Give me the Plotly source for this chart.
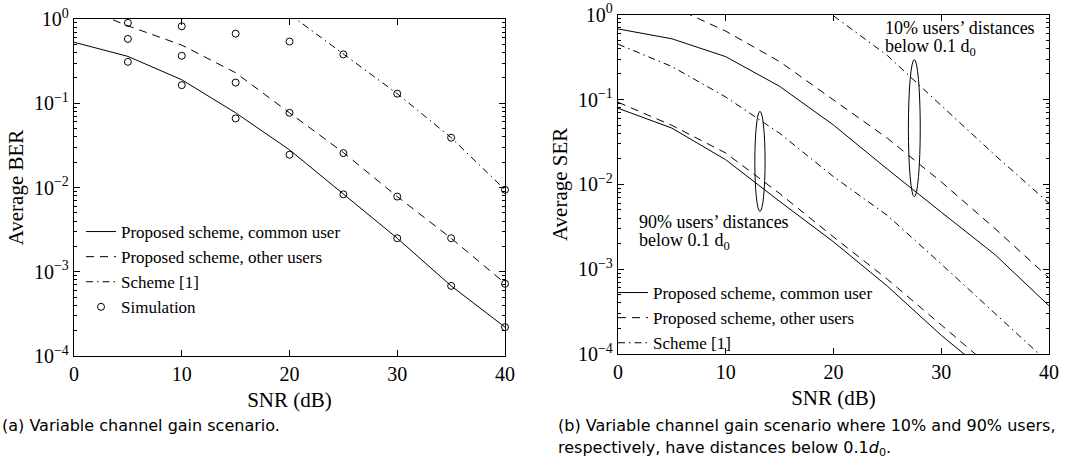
import plotly.graph_objects as go

# ---------------- data: left panel (BER) ----------------
snr = [0, 5, 10, 15, 20, 25, 30, 35, 40]
snr_sim = [5, 10, 15, 20, 25, 30, 35, 40]
snr_s1 = [20, 25, 30, 35, 40]

ber_common = [0.53, 0.36, 0.19, 0.077, 0.028, 0.0083, 0.0025, 6.8e-4, 2.2e-4]
ber_other = [1.5, 0.83, 0.49, 0.23, 0.077, 0.026, 0.0078, 0.0025, 7.3e-4]
ber_scheme1 = [1.14, 0.38, 0.13, 0.039, 0.0094]

sim_common = [0.31, 0.164, 0.066, 0.0245, 0.0083, 0.0025, 6.8e-4, 2.2e-4]
sim_other = [0.58, 0.366, 0.176, 0.077, 0.0256, 0.0078, 0.0025, 7.2e-4]
sim_scheme1 = [0.90, 0.82, 0.67, 0.54, 0.38, 0.13, 0.039, 0.0094]

# ---------------- data: right panel (SER) ----------------
snr_10_other = [5, 10, 15, 20, 25, 30, 35, 40]
snr_90 = [0, 5, 10, 15, 20, 25, 30, 35]

ser10_common = [0.68, 0.52, 0.32, 0.143, 0.050, 0.0151, 0.0047, 0.00148, 3.7e-4]
ser10_other = [1.25, 0.64, 0.28, 0.10, 0.035, 0.0107, 0.0030, 7.9e-4]
ser10_scheme1 = [0.97, 0.33, 0.085, 0.022, 0.0060]

ser90_common = [0.079, 0.046, 0.0195, 0.0063, 0.0021, 6.3e-4, 1.66e-4, 5e-5]
ser90_other = [0.093, 0.0496, 0.0234, 0.0078, 0.0024, 7.6e-4, 2.2e-4, 6.3e-5]
ser90_scheme1 = [0.45, 0.245, 0.107, 0.040, 0.0123, 0.0043, 0.00115, 3.0e-4, 7.8e-5]

y_ticks = [1e-4, 1e-3, 1e-2, 1e-1, 1]
y_ticktext = ["10<sup>\u22124</sup>", "10<sup>\u22123</sup>", "10<sup>\u22122</sup>",
              "10<sup>\u22121</sup>", "10<sup>0</sup>"]
x_ticks = [0, 10, 20, 30, 40]

SERIF = "Liberation Serif"
CAP = "DejaVu Sans"
DASH = "8px,6px"
DASHDOT = "7px,4px,1.5px,4px"

W, H = 1068, 466
fig = go.Figure()

line = dict(color="black", width=1)

# left panel
fig.add_trace(go.Scatter(x=snr, y=ber_common, mode="lines", name="Proposed scheme, common user",
                         line=dict(line, dash="solid"), xaxis="x", yaxis="y", legend="legend"))
fig.add_trace(go.Scatter(x=snr, y=ber_other, mode="lines", name="Proposed scheme, other users",
                         line=dict(line, dash=DASH), xaxis="x", yaxis="y", legend="legend"))
fig.add_trace(go.Scatter(x=snr_s1, y=ber_scheme1, mode="lines", name="Scheme [1]",
                         line=dict(line, dash=DASHDOT), xaxis="x", yaxis="y", legend="legend"))
marker = dict(symbol="circle-open", size=7, color="black", line=dict(color="black", width=1))
for i, ys in enumerate([sim_common, sim_other, sim_scheme1]):
    fig.add_trace(go.Scatter(x=snr_sim, y=ys, mode="markers", name="Simulation", marker=marker,
                             legendgroup="sim", showlegend=(i == 0), xaxis="x", yaxis="y",
                             legend="legend", cliponaxis=False))

# right panel
fig.add_trace(go.Scatter(x=snr, y=ser10_common, mode="lines", name="Proposed scheme, common user",
                         line=dict(line, dash="solid"), legendgroup="c", xaxis="x2", yaxis="y2",
                         legend="legend2"))
fig.add_trace(go.Scatter(x=snr_90, y=ser90_common, mode="lines", name="Proposed scheme, common user",
                         line=dict(line, dash="solid"), legendgroup="c", showlegend=False,
                         xaxis="x2", yaxis="y2", legend="legend2"))
fig.add_trace(go.Scatter(x=snr_10_other, y=ser10_other, mode="lines", name="Proposed scheme, other users",
                         line=dict(line, dash=DASH), legendgroup="o", xaxis="x2", yaxis="y2",
                         legend="legend2"))
fig.add_trace(go.Scatter(x=snr_90, y=ser90_other, mode="lines", name="Proposed scheme, other users",
                         line=dict(line, dash=DASH), legendgroup="o", showlegend=False,
                         xaxis="x2", yaxis="y2", legend="legend2"))
fig.add_trace(go.Scatter(x=snr_s1, y=ser10_scheme1, mode="lines", name="Scheme [1]",
                         line=dict(line, dash=DASHDOT), legendgroup="s", xaxis="x2", yaxis="y2",
                         legend="legend2"))
fig.add_trace(go.Scatter(x=snr, y=ser90_scheme1, mode="lines", name="Scheme [1]",
                         line=dict(line, dash=DASHDOT), legendgroup="s", showlegend=False,
                         xaxis="x2", yaxis="y2", legend="legend2"))

minor_vals = [k * 10 ** e for e in range(-4, 0) for k in range(2, 10)]


def xax(domain, anchor):
    return dict(domain=domain, anchor=anchor, range=[0, 40], tickmode="array", tickvals=x_ticks,
                ticks="inside", ticklen=6, tickcolor="black", mirror="ticks", showline=True,
                linecolor="black", linewidth=1.3, showgrid=False, zeroline=False, automargin=False,
                tickfont=dict(family=SERIF, size=20, color="black"),
                title=dict(text="SNR (dB)", font=dict(family=SERIF, size=21, color="black"), standoff=8))


def yax(domain, anchor, title):
    return dict(domain=domain, anchor=anchor, type="log", range=[-4, 0], tickmode="array",
                tickvals=y_ticks, ticktext=y_ticktext, ticks="inside", ticklen=6, tickcolor="black",
                minor=dict(ticks="inside", ticklen=3, tickcolor="black", tickmode="array",
                           tickvals=minor_vals, showgrid=False),
                mirror="ticks", showline=True, linecolor="black", linewidth=1.3, showgrid=False,
                zeroline=False, automargin=False, tickfont=dict(family=SERIF, size=20, color="black"),
                title=dict(text=title, font=dict(family=SERIF, size=21, color="black"), standoff=4))


fig.update_layout(
    width=W, height=H, autosize=False, margin=dict(l=0, r=0, t=0, b=0, pad=0, autoexpand=False),
    paper_bgcolor="white", plot_bgcolor="white",
    font=dict(family=SERIF, size=17, color="black"),
    xaxis=xax([74 / W, 505 / W], "y"),
    yaxis=yax([1 - 356 / H, 1 - 19 / H], "x", "Average BER"),
    xaxis2=xax([618 / W, 1049 / W], "y2"),
    yaxis2=yax([1 - 354 / H, 1 - 14.7 / H], "x2", "Average SER"),
    legend=dict(x=81 / W, y=1 - 214 / H, xanchor="left", yanchor="top", bgcolor="rgba(0,0,0,0)",
                font=dict(family=SERIF, size=17, color="black"), itemwidth=30, tracegroupgap=0),
    legend2=dict(x=613 / W, y=1 - 275 / H, xanchor="left", yanchor="top", bgcolor="rgba(0,0,0,0)",
                 font=dict(family=SERIF, size=17, color="black"), itemwidth=30, tracegroupgap=0),
    showlegend=True,
)

# ellipses grouping curves
fig.add_shape(type="circle", xref="x2", yref="y2", x0=12.7, x1=13.65,
              y0=10 ** -2.32, y1=10 ** -1.14, line=dict(color="black", width=1))
fig.add_shape(type="circle", xref="x2", yref="y2", x0=26.95, x1=28.05,
              y0=10 ** -2.146, y1=10 ** -0.53, line=dict(color="black", width=1))

# group labels, one annotation per line (y on log axis is given as log10)
lab_font = dict(family=SERIF, size=18, color="black")
fig.add_annotation(xref="x2", yref="y2", x=24.6, y=-0.16, xanchor="left", yanchor="middle",
                   showarrow=False, text="10% users\u2019 distances", font=lab_font)
fig.add_annotation(xref="x2", yref="y2", x=24.6, y=-0.39, xanchor="left", yanchor="middle",
                   showarrow=False, text="below 0.1 d<sub>0</sub>", font=lab_font)
fig.add_annotation(xref="x2", yref="y2", x=1.8, y=-2.445, xanchor="left", yanchor="middle",
                   showarrow=False, text="90% users\u2019 distances", font=lab_font)
fig.add_annotation(xref="x2", yref="y2", x=1.8, y=-2.675, xanchor="left", yanchor="middle",
                   showarrow=False, text="below 0.1 d<sub>0</sub>", font=lab_font)

# captions
cap_font = dict(family=CAP, size=16, color="black")
fig.add_annotation(xref="paper", yref="paper", x=0, y=1 - 425 / H, xanchor="left", yanchor="middle",
                   showarrow=False, text="(a) Variable channel gain scenario.", font=cap_font)
fig.add_annotation(xref="paper", yref="paper", x=556 / W, y=1 - 425 / H, xanchor="left",
                   yanchor="middle", showarrow=False,
                   text="(b) Variable channel gain scenario where 10% and 90% users,", font=cap_font)
fig.add_annotation(xref="paper", yref="paper", x=556 / W, y=1 - 448 / H, xanchor="left",
                   yanchor="middle", showarrow=False,
                   text="respectively, have distances below 0.1<i>d</i><sub>0</sub>.", font=cap_font)

fig.write_html("out.html", config={"displayModeBar": False},
               post_script="document.body.style.margin='0px';")
